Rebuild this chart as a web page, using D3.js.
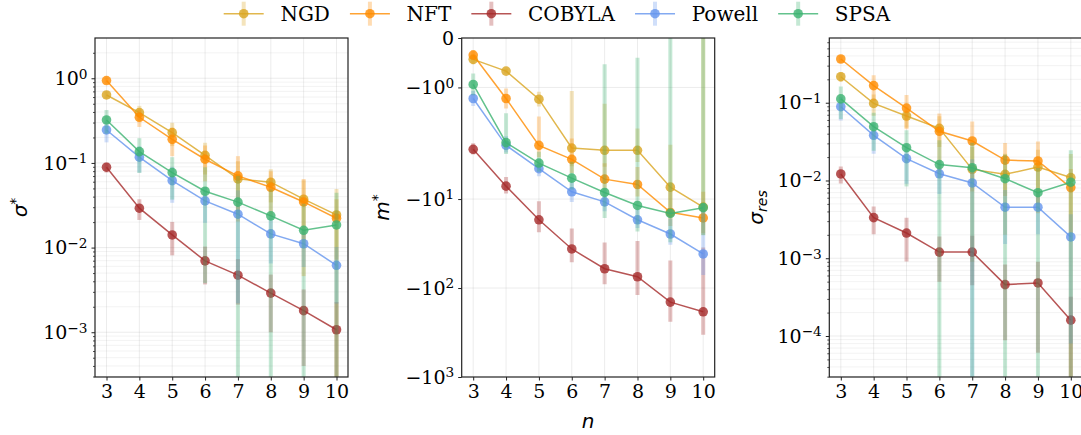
<!DOCTYPE html>
<html>
<head>
<meta charset="utf-8">
<script src="https://cdn.jsdelivr.net/npm/d3@7"></script>
<style>
  body { margin: 0; background: #fff; }
  svg { display: block; }
</style>
</head>
<body>
<svg id="chart" width="1081" height="435"></svg>
<script>
// ---- data -------------------------------------------------------------
const nValues = [3, 4, 5, 6, 7, 8, 9, 10];
const seriesNames = ["NGD", "NFT", "COBYLA", "Powell", "SPSA"];

// optimal sigma
const sigmaNGD    = [0.635, 0.393, 0.228, 0.123, 0.0648, 0.0592, 0.0373, 0.0243];
const sigmaNFT    = [0.94, 0.346, 0.19, 0.1106, 0.0703, 0.0516, 0.0346, 0.0222];
const sigmaCOBYLA = [0.089, 0.0292, 0.0141, 0.00697, 0.00472, 0.0029, 0.0018, 0.00107];
const sigmaPowell = [0.245, 0.117, 0.0618, 0.0356, 0.0248, 0.0145, 0.0111, 0.00618];
const sigmaSPSA   = [0.322, 0.136, 0.0769, 0.0463, 0.0344, 0.0237, 0.016, 0.0185];
const sigmaErrNGD    = [0.06, 0.08, 0.07, 0.05, 0.04, 0.025, 0.025, 0.025];
const sigmaErrNFT    = [0.08, 0.08, 0.07, 0.05, 0.05, 0.028, 0.03, 0.015];
const sigmaErrCOBYLA = [0.012, 0.008, 0.006, 0.0033, 0.0026, 0.0019, 0.0014, 0.0012];
const sigmaErrPowell = [0.07, 0.04, 0.028, 0.016, 0.0226, 0.008, 0.0052, 0.004];
const sigmaErrSPSA   = [0.1, 0.06, 0.04, 0.0425, 0.036, 0.025, 0.017, 0.026];

// optimal m
const mNGD    = [-0.432, -0.67, -1.238, -2.67, -2.83, -2.83, -7.35, -12.3];
const mNFT    = [-0.345, -1.224, -2.49, -3.58, -5.97, -6.86, -14.1, -16.3];
const mCOBYLA = [-2.76, -7.16, -17.1, -36.4, -60.7, -74.7, -144, -185];
const mPowell = [-1.224, -2.49, -4.56, -8.29, -10.75, -17.1, -24.7, -41.4];
const mSPSA   = [-0.94, -2.32, -3.94, -5.82, -8.43, -11.8, -14.5, -12.5];
const mErrNGD    = [0.1, 0.05, 0.15, 1.6, 1.5, 1.0, 4.9, 13];
const mErrNFT    = [0.1, 0.2, 0.9, 1.5, 2, 2.5, 6, 8];
const mErrCOBYLA = [0.4, 1.5, 6.5, 15, 30, 45, 95, 150];
const mErrPowell = [0.15, 0.5, 1, 2.5, 3, 4, 8, 30];
const mErrSPSA   = [0.22, 0.8, 1, 2, 7.9, 11.4, 16, 13];

// residual sigma
const resNGD    = [0.216, 0.098, 0.0675, 0.0469, 0.0139, 0.012, 0.0149, 0.0109];
const resNFT    = [0.365, 0.166, 0.0855, 0.0429, 0.0322, 0.0183, 0.0178, 0.0081];
const resCOBYLA = [0.01213, 0.00333, 0.00211, 0.0012, 0.0012, 0.000458, 0.000481, 0.00016];
const resPowell = [0.0889, 0.0381, 0.0191, 0.0122, 0.0093, 0.00453, 0.00453, 0.00188];
const resSPSA   = [0.112, 0.0492, 0.0264, 0.016, 0.0146, 0.01055, 0.00697, 0.0095];
const resErrNGD    = [0.03, 0.03, 0.02, 0.02, 0.013, 0.01, 0.01, 0.011];
const resErrNFT    = [0.04, 0.06, 0.04, 0.03, 0.025, 0.012, 0.014, 0.006];
const resErrCOBYLA = [0.003, 0.0013, 0.0012, 0.0007, 0.00075, 0.00037, 0.00042, 0.00016];
const resErrPowell = [0.03, 0.016, 0.01, 0.0055, 0.0095, 0.003, 0.0025, 0.0018];
const resErrSPSA   = [0.05, 0.025, 0.018, 0.017, 0.016, 0.011, 0.0075, 0.015];

// ---- styling ------------------------------------------------------------
const colors = {
  NGD: "#daa520", NFT: "#ff8c00", COBYLA: "#a52a2a",
  Powell: "#6495ed", SPSA: "#3cb371"
};
const serifFont = "'DejaVu Serif', serif";
const mathFont = "'DejaVu Sans', sans-serif";
const TICK_FONT = 19;

const svg = d3.select("#chart");
const W = 253, TOP = 38, BOTTOM = 377;

const x = d3.scaleLinear().domain([2.65, 10.35]).range([0, W]);

// matplotlib-style symmetric log transform (linthresh 2, linscale 1)
const LINTHRESH = 2, LINSCALE_ADJ = 1 / (1 - 1 / 10);
function symlogT(v) {
  const a = Math.abs(v);
  if (a <= LINTHRESH) return v * LINSCALE_ADJ;
  return Math.sign(v) * LINTHRESH * (LINSCALE_ADJ + Math.log10(a / LINTHRESH));
}

function sup(sel, base, exp) {
  sel.text(null);
  sel.append("tspan").text(base);
  sel.append("tspan").attr("dy", "-0.45em").attr("font-size", "0.72em").text(exp);
}

function panel(cfg) {
  const g = svg.append("g").attr("transform", `translate(${cfg.left},0)`);
  const clipId = "clip" + cfg.key;
  g.append("clipPath").attr("id", clipId)
    .append("rect").attr("x", 0).attr("y", TOP).attr("width", W).attr("height", BOTTOM - TOP);

  const yPos = cfg.yPos;
  const grid = g.append("g");
  // minor grid
  cfg.minor.forEach(v => {
    grid.append("line").attr("x1", 0).attr("x2", W)
      .attr("y1", yPos(v)).attr("y2", yPos(v))
      .attr("stroke", "#b0b0b0").attr("stroke-opacity", 0.2).attr("stroke-width", 0.8);
  });
  cfg.major.forEach(v => {
    grid.append("line").attr("x1", 0).attr("x2", W)
      .attr("y1", yPos(v)).attr("y2", yPos(v))
      .attr("stroke", "#b0b0b0").attr("stroke-opacity", 0.3).attr("stroke-width", 0.8);
  });
  nValues.forEach(n => {
    grid.append("line").attr("x1", x(n)).attr("x2", x(n))
      .attr("y1", TOP).attr("y2", BOTTOM)
      .attr("stroke", "#b0b0b0").attr("stroke-opacity", 0.3).attr("stroke-width", 0.8);
  });

  const plot = g.append("g").attr("clip-path", `url(#${clipId})`);
  cfg.series.forEach((vals, i) => {
    const name = seriesNames[i];
    const c = colors[name];
    const errs = cfg.errors[i];
    const s = plot.append("g");
    s.selectAll("line.err").data(nValues).join("line").attr("class", "err")
      .attr("x1", n => x(n)).attr("x2", n => x(n))
      .attr("y1", (n, j) => cfg.yClamp(vals[j] + errs[j]))
      .attr("y2", (n, j) => cfg.yClamp(vals[j] - errs[j]))
      .attr("stroke", c).attr("stroke-opacity", 0.3).attr("stroke-width", 4);
    s.append("path").datum(nValues)
      .attr("d", d3.line().x(n => x(n)).y((n, j) => yPos(vals[j])))
      .attr("fill", "none").attr("stroke", c).attr("stroke-opacity", 0.8).attr("stroke-width", 1.5);
    s.selectAll("circle").data(nValues).join("circle")
      .attr("cx", n => x(n)).attr("cy", (n, j) => yPos(vals[j])).attr("r", 4.8)
      .attr("fill", c).attr("fill-opacity", 0.8);
  });

  // axes
  const xAxis = g.append("g").attr("transform", `translate(0,${BOTTOM})`)
    .call(d3.axisBottom(x).tickValues(nValues).tickFormat(d3.format("d")).tickSize(3.5).tickPadding(4));
  xAxis.select(".domain").remove();
  xAxis.selectAll("text").attr("font-family", serifFont).attr("font-size", TICK_FONT).attr("fill", "#000");
  xAxis.selectAll("line").attr("stroke", "#222");

  const yAxis = g.append("g").call(cfg.axis);
  yAxis.select(".domain").remove();
  yAxis.selectAll("line").attr("stroke", "#222");
  yAxis.selectAll("text").attr("font-family", serifFont).attr("font-size", TICK_FONT).attr("fill", "#000")
    .each(function (d) { cfg.label(d3.select(this), d); });

  if (cfg.minorAxis) {
    const mAxis = g.append("g").call(cfg.minorAxis);
    mAxis.select(".domain").remove();
    mAxis.selectAll("text").remove();
    mAxis.selectAll("line").attr("stroke", "#222").attr("stroke-width", 0.8);
  }

  g.append("rect").attr("x", 0).attr("y", TOP).attr("width", W).attr("height", BOTTOM - TOP)
    .attr("fill", "none").attr("stroke", "#222").attr("stroke-width", 1.2);
  return g;
}

function logTicks(domain) {
  const lo = Math.floor(Math.log10(domain[0])), hi = Math.ceil(Math.log10(domain[1]));
  const major = [], minor = [];
  for (let k = lo; k <= hi; k++) {
    const b = Math.pow(10, k);
    if (b >= domain[0] && b <= domain[1]) major.push(b);
    for (let m = 2; m <= 9; m++) {
      const v = m * b;
      if (v >= domain[0] && v <= domain[1]) minor.push(v);
    }
  }
  return { major, minor };
}

function logLabel(sel, v) {
  const k = Math.round(Math.log10(v));
  sup(sel, "10", k < 0 ? "\u2212" + (-k) : String(k));
}

function logPanel(key, left, domain, series, errors) {
  const y = d3.scaleLog().domain(domain).range([BOTTOM, TOP]);
  const t = logTicks(domain);
  return panel({
    key, left, series, errors,
    yPos: v => y(v),
    yClamp: v => (v <= domain[0] ? BOTTOM + 5 : y(v)),
    major: t.major, minor: t.minor,
    axis: d3.axisLeft(y).tickValues(t.major).tickSize(3.5).tickPadding(4),
    minorAxis: d3.axisLeft(y).tickValues(t.minor).tickSize(2),
    label: (sel, d) => logLabel(sel, d)
  });
}

// panel 1: sigma*
logPanel("a", 95, [2.96e-4, 2.99],
  [sigmaNGD, sigmaNFT, sigmaCOBYLA, sigmaPowell, sigmaSPSA],
  [sigmaErrNGD, sigmaErrNFT, sigmaErrCOBYLA, sigmaErrPowell, sigmaErrSPSA]);

// panel 2: m* on a symmetric log axis
const mTicks = [0, -1, -10, -100, -1000];
const yT = d3.scaleLinear().domain([symlogT(-1000), symlogT(0)]).range([BOTTOM, TOP]);
panel({
  key: "b", left: 461.7,
  series: [mNGD, mNFT, mCOBYLA, mPowell, mSPSA],
  errors: [mErrNGD, mErrNFT, mErrCOBYLA, mErrPowell, mErrSPSA],
  yPos: v => yT(symlogT(v)),
  yClamp: v => yT(symlogT(Math.min(v, 1))),
  major: mTicks.slice(1, 4), minor: [],
  axis: d3.axisLeft(yT).tickValues(mTicks.map(symlogT)).tickSize(3.5).tickPadding(4),
  label: (sel, d) => {
    const idx = mTicks.map(symlogT).findIndex(t => Math.abs(t - d) < 1e-9);
    const v = mTicks[idx];
    if (v === 0) { sel.text("0"); return; }
    sup(sel, "\u221210", String(Math.round(Math.log10(-v))));
  }
});

// panel 3: sigma_res
logPanel("c", 829.3, [2.97e-5, 0.68],
  [resNGD, resNFT, resCOBYLA, resPowell, resSPSA],
  [resErrNGD, resErrNFT, resErrCOBYLA, resErrPowell, resErrSPSA]);

// axis titles
const midY = (TOP + BOTTOM) / 2;
function yTitle(xPos, build) {
  const t = svg.append("text").attr("transform", `translate(${xPos},${midY}) rotate(-90)`)
    .attr("text-anchor", "middle").attr("font-family", mathFont).attr("font-size", 20)
    .attr("fill", "#000");
  build(t);
}
yTitle(27, t => {
  t.append("tspan").attr("font-style", "italic").text("\u03c3");
  t.append("tspan").attr("dy", "-0.5em").attr("font-size", "0.7em").text("*");
});
yTitle(389, t => {
  t.append("tspan").attr("font-style", "italic").text("m");
  t.append("tspan").attr("dy", "-0.5em").attr("font-size", "0.7em").text("*");
});
yTitle(763, t => {
  t.append("tspan").attr("font-style", "italic").text("\u03c3");
  t.append("tspan").attr("dy", "0.25em").attr("font-size", "0.7em").attr("font-style", "italic").text("res");
});
svg.append("text").attr("x", 461.7 + W / 2).attr("y", 428).attr("text-anchor", "middle")
  .attr("font-family", mathFont).attr("font-style", "italic").attr("font-size", 20).text("n");

// legend
const legend = svg.append("g");
let lx = 223.7;
const ly = 13.7;
seriesNames.forEach(name => {
  const c = colors[name];
  const item = legend.append("g");
  const mx = lx + 20;
  item.append("line").attr("x1", mx).attr("x2", mx).attr("y1", ly - 12).attr("y2", ly + 12)
    .attr("stroke", c).attr("stroke-opacity", 0.3).attr("stroke-width", 4);
  item.append("line").attr("x1", lx).attr("x2", lx + 40).attr("y1", ly).attr("y2", ly)
    .attr("stroke", c).attr("stroke-opacity", 0.8).attr("stroke-width", 1.5);
  item.append("circle").attr("cx", mx).attr("cy", ly).attr("r", 4.8)
    .attr("fill", c).attr("fill-opacity", 0.8);
  const txt = item.append("text").attr("x", lx + 56.7).attr("y", ly + 7.3)
    .attr("font-family", serifFont).attr("font-size", 20).attr("fill", "#000").text(name);
  lx = lx + 56.7 + txt.node().getComputedTextLength() + 20;
});
</script>
</body>
</html>
